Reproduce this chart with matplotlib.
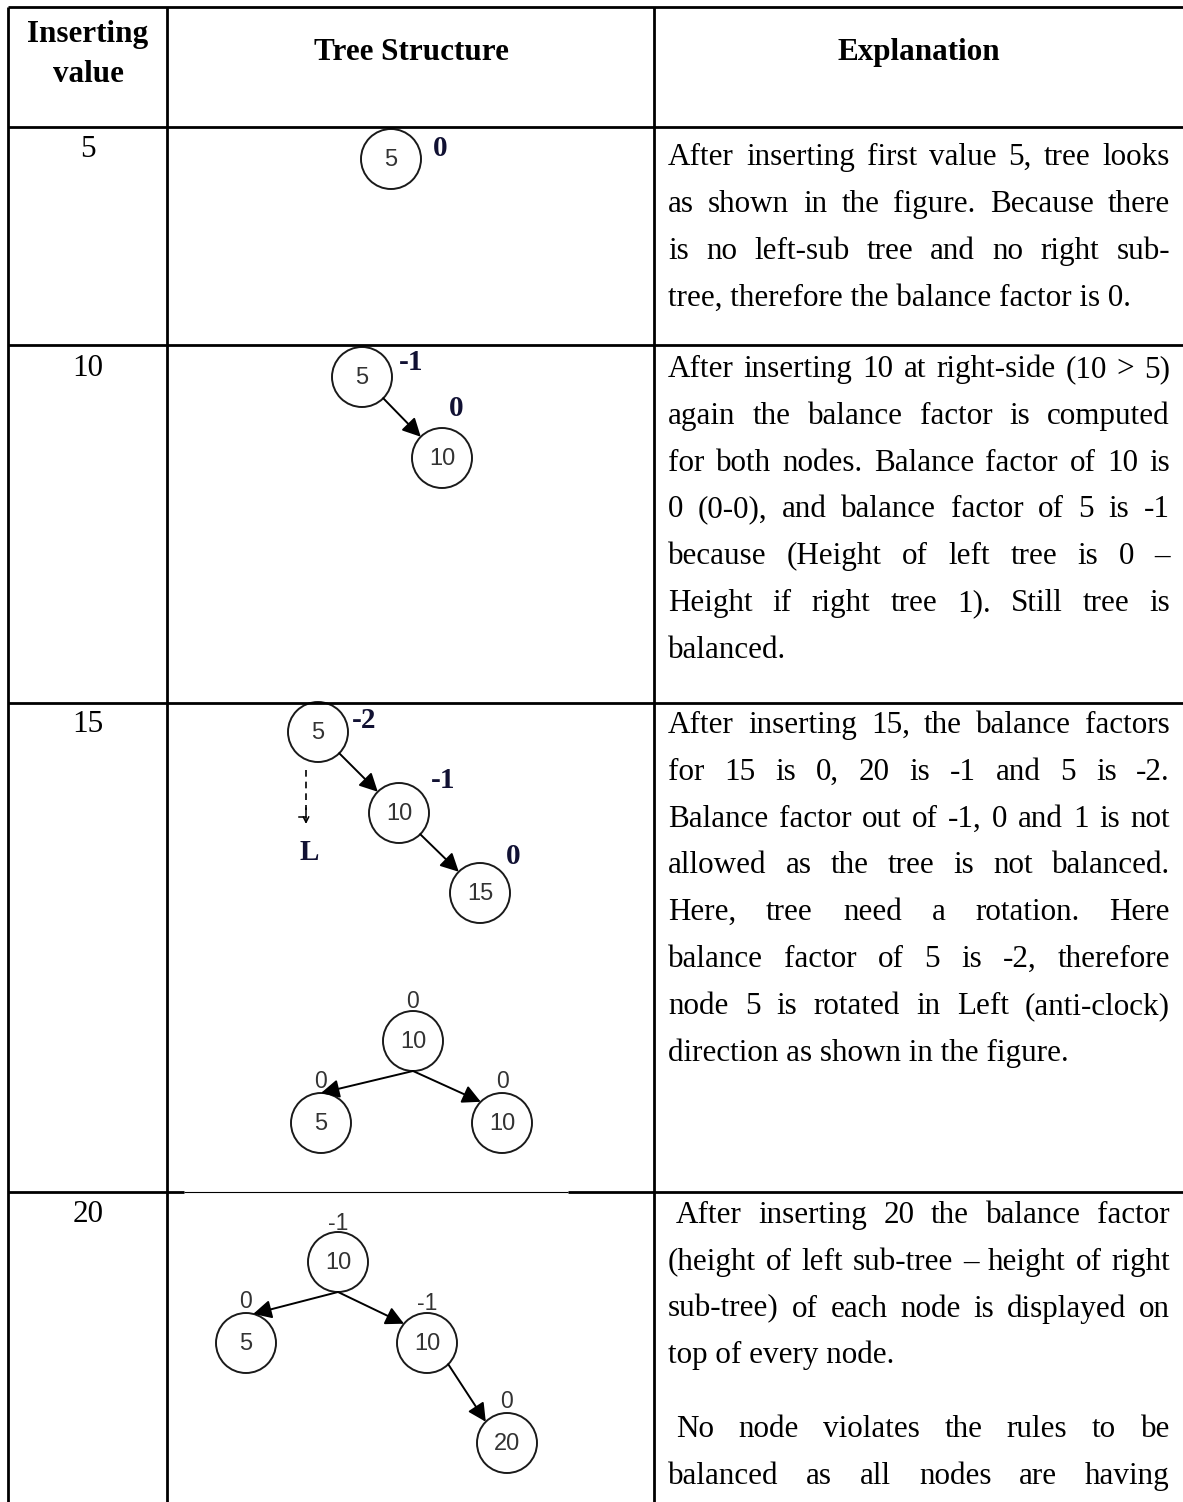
import numpy as np
import matplotlib
matplotlib.use('Agg')
import matplotlib.pyplot as plt
from matplotlib.patches import Circle, FancyArrowPatch

# page size in pixels (1 data unit = 1 pixel)
W, H = 1183, 1502
SERIF = 'Liberation Serif'
SANS = 'Liberation Sans'

# table text
head_first = ['Inserting', 'value']
head_cols = ['Tree Structure', 'Explanation']
insert_values = ['5', '10', '15', '20']

# explanation paragraphs, one list of lines per paragraph
expl_row1 = [["After inserting first value 5, tree looks",
              "as shown in the figure. Because there",
              "is no left-sub tree and no right sub-",
              "tree, therefore the balance factor is 0."]]
expl_row2 = [["After inserting 10 at right-side (10 > 5)",
              "again the balance factor is computed",
              "for both nodes. Balance factor of 10 is",
              "0 (0-0), and balance factor of 5 is -1",
              "because (Height of left tree is 0 \u2013",
              "Height if right tree 1). Still tree is",
              "balanced."]]
expl_row3 = [["After inserting 15, the balance factors",
              "for 15 is 0, 20 is -1 and 5 is -2.",
              "Balance factor out of -1, 0 and 1 is not",
              "allowed as the tree is not balanced.",
              "Here, tree need a rotation. Here",
              "balance factor of 5 is -2, therefore",
              "node 5 is rotated in Left (anti-clock)",
              "direction as shown in the figure."]]
expl_row4 = [[" After inserting 20 the balance factor",
              "(height of left sub-tree \u2013 height of right",
              "sub-tree) of each node is displayed on",
              "top of every node."],
             [" No node violates the rules to be",
              "balanced as all nodes are having"]]

# trees: node keys, balance factors, edges (parent, child)
t1_keys = ['5'];              t1_bf = ['0'];              t1_edges = []
t2_keys = ['5', '10'];        t2_bf = ['-1', '0'];        t2_edges = [(0, 1)]
t3_keys = ['5', '10', '15'];  t3_bf = ['-2', '-1', '0'];  t3_edges = [(0, 1), (1, 2)]
t4_keys = ['10', '5', '10'];  t4_bf = ['0', '0', '0'];    t4_edges = [(0, 1), (0, 2)]
t5_keys = ['10', '5', '10', '20']; t5_bf = ['-1', '0', '-1', '0']
t5_edges = [(0, 1), (0, 2), (2, 3)]

# layout (pixel positions)
t1_xy = [(391, 159)];                          t1_bfxy = [(440, 148)]
t2_xy = [(362, 377), (442, 458)];              t2_bfxy = [(411, 363), (456, 408)]
t3_xy = [(318, 732), (399, 813), (480, 893)];  t3_bfxy = [(364, 721), (443, 781), (513, 857)]
t4_xy = [(413, 1041), (321, 1123), (502, 1123)]
t4_bfxy = [(413, 1002), (321, 1082), (503, 1082)]
t5_xy = [(338, 1262), (246, 1343), (427, 1343), (507, 1443)]
t5_bfxy = [(338, 1223), (246, 1302), (427, 1303), (507, 1402)]
# edge anchor angles on the circles (deg, y pointing down)
t2_ang = [(45, 225)]
t3_ang = [(45, 225), (45, 225)]
t4_ang = [(90, 270), (90, 225)]
t5_ang = [(90, 284), (90, 220), (45, 225)]
R = 30

fig = plt.figure(figsize=(W / 100, H / 100), dpi=100)
ax = fig.add_axes([0, 0, 1, 1])
ax.set_xlim(0, W)
ax.set_ylim(H, 0)
ax.axis('off')
renderer = fig.canvas.get_renderer()

# table grid
xs = [8, 167, 654]
ys = [7, 127, 345, 703, 1192]
lw_tab = 2.0
for y in ys[:-1]:
    ax.plot([xs[0], W], [y, y], color='k', lw=lw_tab, solid_capstyle='butt')
ax.plot([xs[0], 184], [1192, 1192], color='k', lw=lw_tab, solid_capstyle='butt')
ax.plot([184, 568], [1192, 1192], color='k', lw=0.8, solid_capstyle='butt')
ax.plot([568, W], [1192, 1192], color='k', lw=lw_tab, solid_capstyle='butt')
for x in xs:
    ax.plot([x, x], [ys[0], H], color='k', lw=lw_tab, solid_capstyle='butt')

FS = 22.4
# headers
ax.text(88, 42, head_first[0], fontsize=FS, family=SERIF, weight='bold', ha='center', va='baseline')
ax.text(88, 82, head_first[1], fontsize=FS, family=SERIF, weight='bold', ha='center', va='baseline')
ax.text(411, 60, head_cols[0], fontsize=FS, family=SERIF, weight='bold', ha='center', va='baseline')
ax.text(919, 60, head_cols[1], fontsize=FS, family=SERIF, weight='bold', ha='center', va='baseline')

# inserted values
val_base = [157, 376, 732, 1222]
for v, yb in zip(insert_values, val_base):
    ax.text(88, yb, v, fontsize=FS, family=SERIF, ha='center', va='baseline')


def text_w(s):
    t = ax.text(0, 0, s, fontsize=FS, family=SERIF)
    w = t.get_window_extent(renderer).width
    t.remove()
    return w


space_w = text_w('x x') - text_w('xx')
X0, X1 = 668, 1170
LS = 46.8


def put_par(lines, y, last_justified=False):
    for i, line in enumerate(lines):
        x = X0 + (space_w if line.startswith(' ') else 0)
        justify = i < len(lines) - 1 or last_justified
        if not justify:
            ax.text(x, y, line.strip(), fontsize=FS, family=SERIF, va='baseline')
        else:
            words = line.split()
            ws = [text_w(wd) for wd in words]
            gap = (X1 - x - sum(ws)) / (len(words) - 1)
            for wd, wdw in zip(words, ws):
                ax.text(x, y, wd, fontsize=FS, family=SERIF, va='baseline')
                x += wdw + gap
        y += LS
    return y


put_par(expl_row1[0], 165)
put_par(expl_row2[0], 377)
put_par(expl_row3[0], 733)
put_par(expl_row4[0], 1223)
put_par(expl_row4[1], 1437, last_justified=True)


def draw_tree(keys, xy, bf, bfxy, edges, ang, bold_bf):
    for k, (x, y) in zip(keys, xy):
        ax.add_patch(Circle((x, y), R, fill=False, ec='#1a1a1a', lw=1.4))
        ax.text(x, y + 1, k, fontsize=17, family=SANS, color='#333333', ha='center', va='center')
    for b, (x, y) in zip(bf, bfxy):
        if bold_bf:
            ax.text(x, y, b, fontsize=21, family=SERIF, weight='bold', color='#111133',
                    ha='center', va='center')
        else:
            ax.text(x, y, b, fontsize=16.5, family=SANS, color='#333333', ha='center', va='center')
    for (p, c), (a1, a2) in zip(edges, ang):
        px, py = xy[p]
        cx, cy = xy[c]
        s = (px + R * np.cos(np.radians(a1)), py + R * np.sin(np.radians(a1)))
        e = (cx + R * np.cos(np.radians(a2)), cy + R * np.sin(np.radians(a2)))
        ax.add_patch(FancyArrowPatch(s, e, arrowstyle='-|>,head_length=0.55,head_width=0.28',
                                     mutation_scale=20, lw=1.4, color='k', shrinkA=0, shrinkB=0))


draw_tree(t1_keys, t1_xy, t1_bf, t1_bfxy, t1_edges, [], True)
draw_tree(t2_keys, t2_xy, t2_bf, t2_bfxy, t2_edges, t2_ang, True)
draw_tree(t3_keys, t3_xy, t3_bf, t3_bfxy, t3_edges, t3_ang, True)
draw_tree(t4_keys, t4_xy, t4_bf, t4_bfxy, t4_edges, t4_ang, False)
draw_tree(t5_keys, t5_xy, t5_bf, t5_bfxy, t5_edges, t5_ang, False)

# left rotation marker
ax.plot([306, 306], [770, 810], color='k', lw=1.2, ls=(0, (4, 3)))
ax.add_patch(FancyArrowPatch((306, 808), (306, 824), arrowstyle='->', mutation_scale=10,
                             lw=1.1, color='k', shrinkA=0, shrinkB=0))
ax.plot([299, 306], [817, 817], color='k', lw=1.1)
ax.text(309, 853, 'L', fontsize=21, family=SERIF, weight='bold', color='#111133',
        ha='center', va='center')

plt.savefig('out.png', dpi=100)
